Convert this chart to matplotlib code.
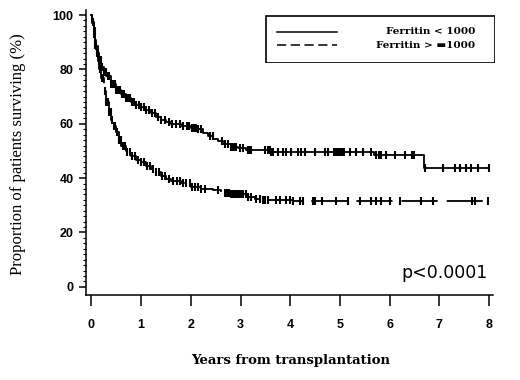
import numpy as np
import matplotlib
matplotlib.use("Agg")
import matplotlib.pyplot as plt
from matplotlib.patches import Rectangle

# Kaplan-Meier knots (years, % surviving)
low_t = [0, 0.02, 0.05, 0.08, 0.1, 0.13, 0.16, 0.2, 0.25, 0.3, 0.4, 0.5, 0.6, 0.7, 0.8, 0.9, 1.0,
         1.1, 1.2, 1.3, 1.4, 1.5, 1.6, 1.8, 2.0, 2.15, 2.25, 2.35, 2.45, 2.55, 2.65, 2.8, 2.95,
         3.1, 3.6, 5.68, 6.7]
low_s = [100, 97.5, 94, 91, 88.5, 86, 83.5, 81, 79, 77.5, 74.5, 72.5, 71, 69.5, 68, 67, 66,
         65, 63.8, 62.5, 61.5, 60.5, 60, 59, 58.5, 58, 56.5, 55.5, 54.5, 53.5, 52.5, 51.6, 51,
         50.4, 49.7, 48.5, 43.7]
high_t = [0, 0.02, 0.05, 0.08, 0.1, 0.13, 0.16, 0.2, 0.25, 0.3, 0.35, 0.4, 0.45, 0.5, 0.55, 0.6,
          0.7, 0.8, 0.9, 1.0, 1.1, 1.2, 1.3, 1.4, 1.5, 1.6, 1.8, 2.0, 2.2, 2.45, 2.6, 2.8, 3.15,
          3.3, 3.45, 4.05]
high_s = [100, 97, 93, 89, 86, 83, 80, 77, 72, 68, 64.5, 61.5, 59, 57, 54, 52,
          49.5, 48, 46.8, 45.8, 44.6, 43.5, 42.3, 40.8, 39.5, 38.8, 38.2, 36.6, 36, 35.5, 34.5, 34, 33.2,
          32.5, 32, 31.4]
end_time = 8.0

# censoring times
low_cens = [0.04, 0.07, 0.1, 0.13, 0.16, 0.19, 0.22, 0.26, 0.29, 0.33, 0.36, 0.4, 0.43, 0.47, 0.5,
            0.54, 0.58, 0.62, 0.66, 0.7, 0.74, 0.78, 0.82, 0.86, 0.9, 0.95, 1.0, 1.05, 1.1, 1.16,
            1.22, 1.28, 1.34, 1.4, 1.47, 1.55, 1.62, 1.7, 1.78, 1.85, 1.92, 1.97, 2.02, 2.06, 2.1,
            2.15, 2.21, 2.38, 2.44, 2.62, 2.68, 2.74, 2.81, 2.84, 2.88, 2.91, 2.98, 3.04, 3.15,
            3.18, 3.22, 3.49, 3.55, 3.59, 3.62, 3.65, 3.75, 3.85, 3.92, 4.02, 4.15, 4.22, 4.29,
            4.49, 4.69, 4.75, 4.89, 4.93, 4.97, 5.01, 5.05, 5.09, 5.2, 5.33, 5.46, 5.63, 5.73,
            5.78, 5.83, 5.93, 6.1, 6.3, 6.45, 6.48, 6.5, 6.71, 7.07, 7.31, 7.41, 7.54, 7.64, 7.77, 8.0]
high_cens = [0.05, 0.08, 0.12, 0.15, 0.18, 0.21, 0.24, 0.27, 0.3, 0.33, 0.36, 0.39, 0.42, 0.45,
             0.48, 0.51, 0.55, 0.59, 0.63, 0.67, 0.72, 0.77, 0.82, 0.88, 0.94, 1.0, 1.06, 1.12,
             1.18, 1.24, 1.3, 1.36, 1.42, 1.48, 1.56, 1.64, 1.72, 1.78, 1.84, 1.91, 1.98, 2.03,
             2.08, 2.14, 2.21, 2.28, 2.54, 2.68, 2.72, 2.76, 2.8, 2.84, 2.88, 2.92, 2.96, 3.0,
             3.05, 3.1, 3.15, 3.22, 3.32, 3.39, 3.45, 3.49, 3.55, 3.72, 3.79, 3.92, 3.99, 4.06,
             4.19, 4.26, 4.45, 4.49, 4.63, 4.93, 5.16, 5.4, 5.63, 5.73, 5.83, 6.0, 6.2, 6.64,
             6.87, 7.65, 7.71, 7.98]

x_ticks = [0, 1, 2, 3, 4, 5, 6, 7, 8]
y_ticks = [0, 20, 40, 60, 80, 100]
legend_labels = ["Ferritin < 1000", "Ferritin > \u25ac1000"]


def step_at(t_knots, s_knots, t):
    idx = np.searchsorted(np.array(t_knots), np.array(t), side="right") - 1
    return np.array(s_knots)[idx]


fig = plt.figure(figsize=(5.2, 3.8), dpi=100)
ax = fig.add_axes([0.1654, 0.2237, 0.7827, 0.751])

for tk, sk, cens, ls in [(low_t, low_s, low_cens, "-"), (high_t, high_s, high_cens, (0, (20, 5)))]:
    xs = list(tk) + [end_time]
    ys = list(sk) + [sk[-1]]
    ax.plot(xs, ys, drawstyle="steps-post", color="black", lw=1.3, linestyle=ls)
    ax.plot(cens, step_at(tk, sk, cens), linestyle="none", marker="|", color="black",
            markersize=6, markeredgewidth=1.5)

ax.set_xlim(-0.11, 8.08)
ax.set_ylim(-3, 102)
ax.spines["top"].set_visible(False)
ax.spines["right"].set_visible(False)
for s in ["left", "bottom"]:
    ax.spines[s].set_linewidth(1.1)

ax.set_xticks(x_ticks)
ax.set_yticks(y_ticks)
ax.set_yticks(np.arange(0, 101, 2), minor=True)
ax.tick_params(axis="x", length=8, width=1.1, pad=9)
ax.tick_params(axis="y", which="major", length=5, width=1.1, pad=4)
ax.tick_params(axis="y", which="minor", length=2.5, width=0.8)
for lab in ax.get_xticklabels() + ax.get_yticklabels():
    lab.set_family(["Liberation Sans", "DejaVu Sans"])
    lab.set_fontweight("bold")
    lab.set_fontsize(9)

fig.text(0.558, 0.052, "Years from transplantation", ha="center", va="center",
         family="DejaVu Serif", fontweight="bold", fontsize=9.5)
fig.text(0.035, 0.595, "Proportion of patients surviving (%)", ha="center", va="center",
         rotation=90, family="Liberation Serif", fontsize=12)
fig.text(0.938, 0.268, "p<0.0001", ha="right", va="baseline",
         family="DejaVu Sans", fontsize=12.5)

# legend box
lax = fig.add_axes([265 / 520, 1 - 63 / 380, 230 / 520, 48 / 380])
lax.set_xlim(0, 230)
lax.set_ylim(48, 0)
lax.axis("off")
lax.add_patch(Rectangle((0.5, 0.5), 229, 47, fill=False, lw=1.2, edgecolor="black"))
lax.plot([12, 72], [16.7, 16.7], color="black", lw=1.1)
lax.plot([12, 72], [30, 30], color="black", lw=1.1, linestyle=(0, (6, 3)))
lax.text(210, 16.7, legend_labels[0], ha="right", va="center",
         family=["DejaVu Serif", "DejaVu Sans"], fontweight="bold", fontsize=7.5)
lax.text(210, 30, legend_labels[1], ha="right", va="center",
         family=["DejaVu Serif", "DejaVu Sans"], fontweight="bold", fontsize=7.5)

fig.savefig("out.png", dpi=100)
